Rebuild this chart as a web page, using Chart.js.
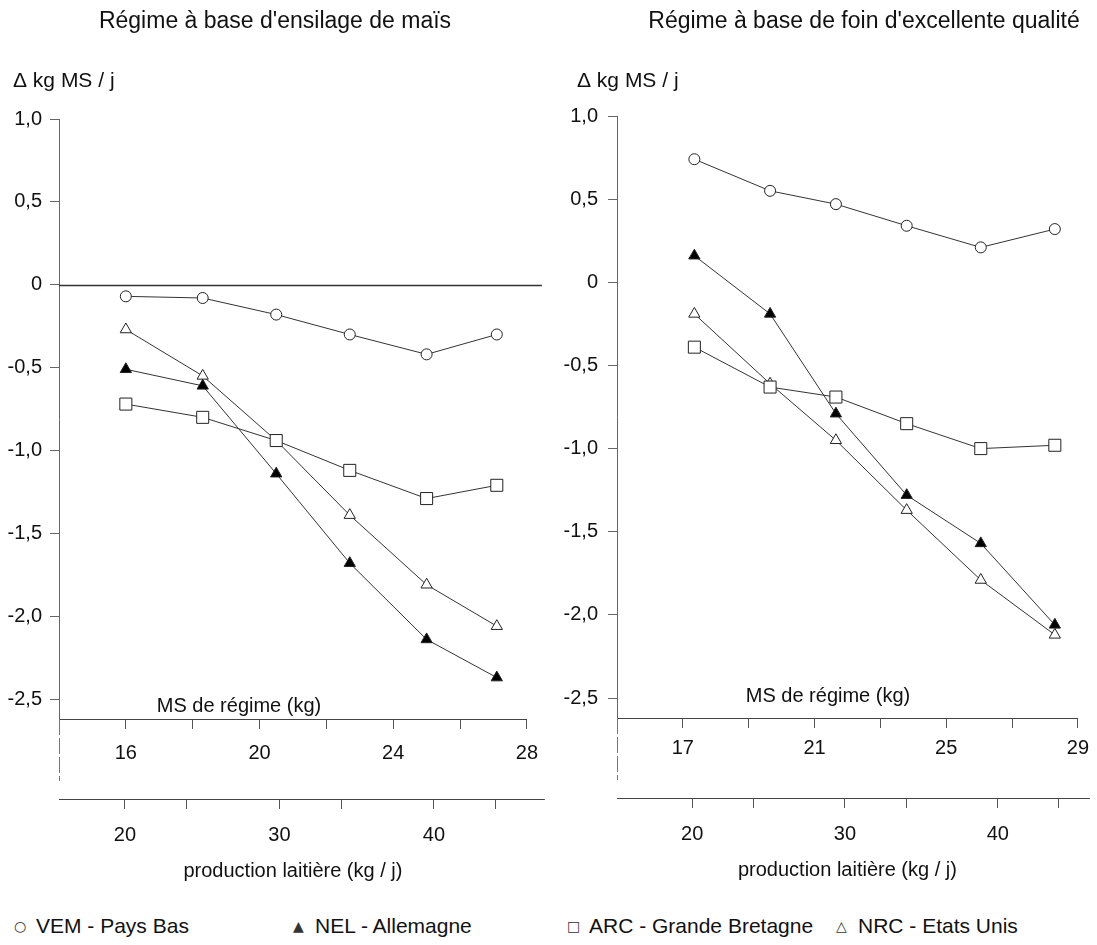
<!DOCTYPE html>
<html>
<head>
<meta charset="utf-8">
<script src="https://cdn.jsdelivr.net/npm/chart.js@4.4.1/dist/chart.umd.min.js"></script>
<style>
    body { margin: 0; background: #fff; }
    #cadre { position: relative; width: 1097px; height: 945px; overflow: hidden;
             font-family: "Liberation Sans", Arial, sans-serif; color: #111; }
    #cadre canvas { position: absolute; top: 0; }
    .leg { position: absolute; top: 914px; font-size: 21px; white-space: nowrap; }
    .leg span { display: inline-block; width: 22px; font-size: 14px; color: #333;
                vertical-align: 2px; font-family: "DejaVu Sans", sans-serif; }
</style>
</head>
<body>
<div id="cadre">
    <canvas id="mais" width="550" height="900" style="left:0"></canvas>
    <canvas id="foin" width="547" height="900" style="left:550px"></canvas>
</div>
<script>
// Séries (légende) et symboles
var series = ['VEM - Pays Bas', 'NEL - Allemagne', 'ARC - Grande Bretagne', 'NRC - Etats Unis'];
var symboles = ['○', '▲', '□', '△'];

// Régime à base d'ensilage de maïs : MS de régime (kg) pour chaque point
var msMais = [16.0, 18.3, 20.5, 22.7, 25.0, 27.1];
var vemMais = [-0.07, -0.08, -0.18, -0.30, -0.42, -0.30];
var nelMais = [-0.51, -0.61, -1.14, -1.68, -2.14, -2.37];
var arcMais = [-0.72, -0.80, -0.94, -1.12, -1.29, -1.21];
var nrcMais = [-0.27, -0.55, -0.94, -1.39, -1.81, -2.06];

// Régime à base de foin d'excellente qualité
var msFoin = [17.35, 19.65, 21.65, 23.8, 26.05, 28.3];
var vemFoin = [0.74, 0.55, 0.47, 0.34, 0.21, 0.32];
var nelFoin = [0.16, -0.19, -0.79, -1.28, -1.57, -2.06];
var arcFoin = [-0.39, -0.63, -0.69, -0.85, -1.00, -0.98];
var nrcFoin = [-0.19, -0.61, -0.95, -1.37, -1.79, -2.12];

// Graduations
var ticksProduction = [20, 24, 30, 34, 40, 44];
var etiquettesProduction = [20, 30, 40];

var police = '"Liberation Sans", Arial, sans-serif';

// Textes et prolongements d'axes dessinés autour des graphiques
var decor = {
    id: 'decor',
    beforeDatasetsDraw: function(chart, args, opts) {
        if (!opts.ligneZero) return;
        var ctx = chart.ctx;
        var y = Math.round(chart.scales.y.getPixelForValue(0)) + 0.5;
        ctx.save();
        ctx.strokeStyle = '#333';
        ctx.lineWidth = 1.3;
        ctx.beginPath();
        ctx.moveTo(chart.chartArea.left, y);
        ctx.lineTo(chart.chartArea.right + 15, y);
        ctx.stroke();
        ctx.restore();
    },
    afterDraw: function(chart, args, opts) {
        var ctx = chart.ctx;
        var a = chart.chartArea;
        var x2 = chart.scales.x2;
        ctx.save();
        // l'axe vertical descend sous l'axe MS
        ctx.strokeStyle = '#777';
        ctx.lineWidth = 1;
        ctx.setLineDash([16, 3]);
        ctx.beginPath();
        ctx.moveTo(Math.round(a.left) + 0.5, a.bottom);
        ctx.lineTo(Math.round(a.left) + 0.5, x2.top - 18);
        ctx.stroke();
        ctx.setLineDash([]);

        // l'axe production dépasse à droite
        ctx.strokeStyle = '#444';
        ctx.beginPath();
        ctx.moveTo(x2.right, Math.round(x2.top) + 0.5);
        ctx.lineTo(x2.right + opts.prolonge, Math.round(x2.top) + 0.5);
        ctx.stroke();

        ctx.fillStyle = '#111';
        ctx.textBaseline = 'alphabetic';
        ctx.textAlign = 'center';
        ctx.font = '23px ' + police;
        ctx.fillText(opts.titre, opts.titreX, 28);
        ctx.textAlign = 'left';
        ctx.font = '21px ' + police;
        ctx.fillText('\u0394 kg MS / j', opts.deltaX, 87);
        ctx.textAlign = 'center';
        ctx.font = '20px ' + police;
        ctx.fillText('MS de régime (kg)', opts.msX, opts.msY);
        ctx.restore();
    }
};

function jeu(nom, ms, valeurs, style, rayon, fond) {
    return {
        label: nom,
        data: ms.map(function(x, i) { return { x: x, y: valeurs[i] }; }),
        borderColor: '#333',
        borderWidth: 1,
        pointStyle: style,
        pointRadius: rayon,
        pointBackgroundColor: fond,
        pointBorderColor: '#222',
        pointBorderWidth: 1,
        xAxisID: 'x',
        yAxisID: 'y'
    };
}

function creerGraphique(id, p) {
    var ctx = document.getElementById(id).getContext('2d');
    new Chart(ctx, {
        type: 'line',
        data: {
            datasets: [
                jeu(series[0], p.ms, p.vem, 'circle', 5.5, '#fff'),
                jeu(series[1], p.ms, p.nel, 'triangle', 6.5, '#000'),
                jeu(series[2], p.ms, p.arc, 'rect', 8.5, '#fff'),
                jeu(series[3], p.ms, p.nrc, 'triangle', 6.5, '#fff')
            ]
        },
        plugins: [decor],
        options: {
            responsive: false,
            animation: false,
            layout: { padding: { top: p.haut, right: p.droite, bottom: p.bas, left: 0 } },
            plugins: {
                legend: { display: false },
                tooltip: { enabled: false },
                decor: {
                    titre: p.titre, titreX: p.titreX, deltaX: p.deltaX,
                    msX: p.msX, msY: p.msY, ligneZero: p.ligneZero, prolonge: p.prolonge
                }
            },
            scales: {
                y: {
                    position: 'left',
                    min: -2.62,
                    max: 1.0,
                    afterFit: function(s) { s.width = p.largeurY; },
                    border: { color: '#666', width: 1, dash: [16, 3] },
                    grid: { drawOnChartArea: false, tickLength: 9, tickColor: '#666' },
                    ticks: {
                        stepSize: 0.5,
                        includeBounds: false,
                        padding: p.padY,
                        color: '#111',
                        font: { family: police, size: 20 },
                        callback: function(v) {
                            if (Math.abs(v) < 1e-9) return '0';
                            return v.toFixed(1).replace('.', ',');
                        }
                    }
                },
                x: {
                    type: 'linear',
                    position: 'bottom',
                    min: p.msMin,
                    max: p.msMin + 14,
                    afterFit: function(s) { s.height = 80; },
                    border: { color: '#444', width: 1 },
                    grid: { drawOnChartArea: false, tickLength: 10, tickColor: '#555' },
                    ticks: {
                        stepSize: 2,
                        maxRotation: 0,
                        padding: p.padMS,
                        color: '#111',
                        font: { family: police, size: 20 },
                        callback: function(v) {
                            return (v - p.msMin - 2) % 4 === 0 ? String(v) : '';
                        }
                    }
                },
                x2: {
                    type: 'linear',
                    position: 'bottom',
                    min: p.prodMin,
                    max: p.prodMax,
                    afterFit: function(s) { s.height = 100; },
                    afterBuildTicks: function(s) {
                        s.ticks = ticksProduction.map(function(v) { return { value: v }; });
                    },
                    border: { color: '#444', width: 1 },
                    grid: { drawOnChartArea: false, tickLength: 10, tickColor: '#555' },
                    ticks: {
                        maxRotation: 0,
                        padding: 14,
                        color: '#111',
                        font: { family: police, size: 20 },
                        callback: function(v) {
                            return etiquettesProduction.indexOf(v) >= 0 ? String(v) : '';
                        }
                    },
                    title: {
                        display: true,
                        text: 'production laitière (kg / j)',
                        color: '#111',
                        font: { family: police, size: 20 },
                        padding: { top: 0, bottom: 16 }
                    }
                }
            }
        }
    });
}

creerGraphique('mais', {
    ms: msMais, vem: vemMais, nel: nelMais, arc: arcMais, nrc: nrcMais,
    titre: "Régime à base d'ensilage de maïs", titreX: 275, deltaX: 13,
    msX: 239, msY: 712, ligneZero: true, prolonge: 18,
    haut: 119, droite: 23, bas: 1, largeurY: 59, padY: 8, padMS: 12,
    msMin: 14, prodMin: 15.73, prodMax: 46.02
});

creerGraphique('foin', {
    ms: msFoin, vem: vemFoin, nel: nelFoin, arc: arcFoin, nrc: nrcFoin,
    titre: "Régime à base de foin d'excellente qualité", titreX: 314, deltaX: 27,
    msX: 278, msY: 702, ligneZero: false, prolonge: 12,
    haut: 116, droite: 14, bas: 2, largeurY: 67, padY: 10, padMS: 8,
    msMin: 15, prodMin: 15.08, prodMax: 45.24
});

// Légende commune en bas de la figure
var positionsLegende = [14, 293, 567, 836];
var cadre = document.getElementById('cadre');
series.forEach(function(nom, i) {
    var d = document.createElement('div');
    d.className = 'leg';
    d.style.left = positionsLegende[i] + 'px';
    d.innerHTML = '<span>' + symboles[i] + '</span>' + nom;
    cadre.appendChild(d);
});
</script>
</body>
</html>
